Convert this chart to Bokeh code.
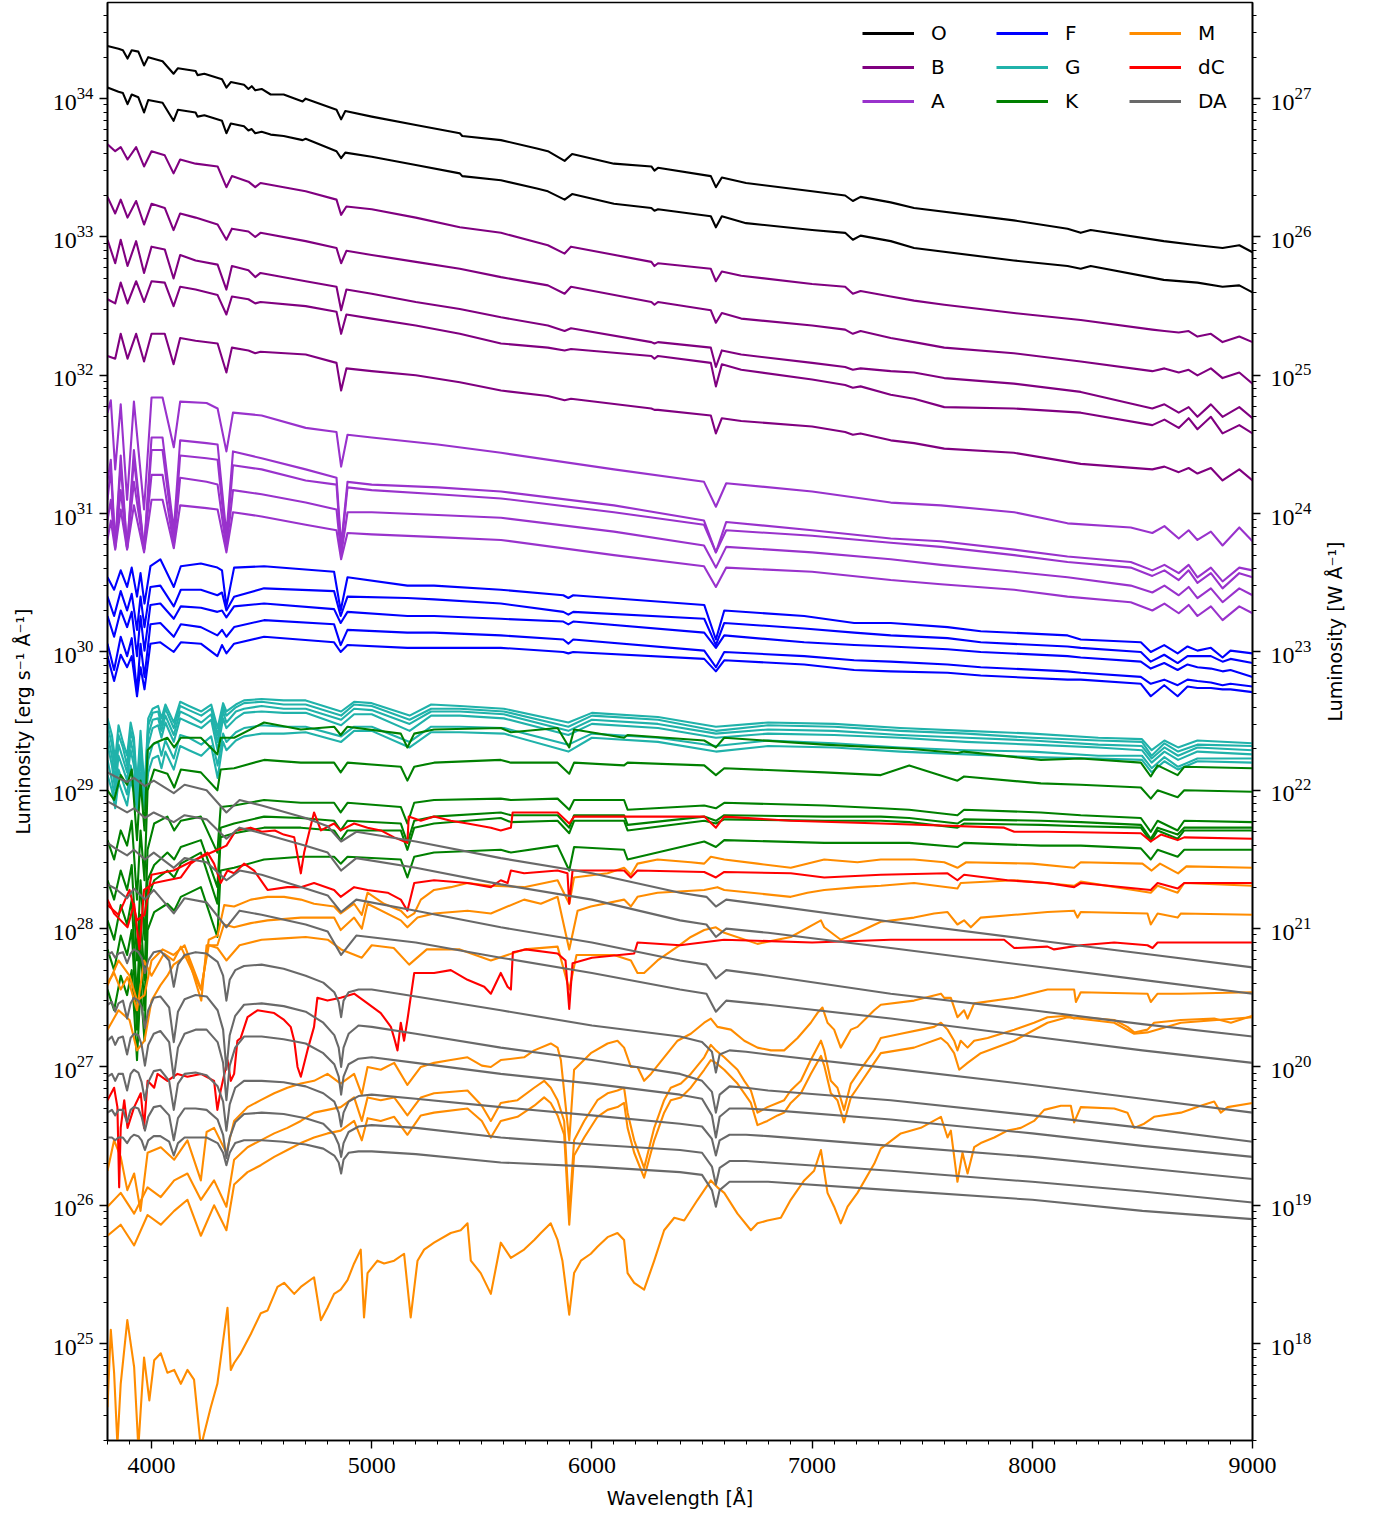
import math
from bokeh.plotting import figure
from bokeh.models import Range1d, LogScale, LogAxis, FixedTicker, Legend, LegendItem
from bokeh.embed import file_html
from bokeh.resources import INLINE

# ---------------- data: wavelength grids [Angstrom] and log10 luminosity [erg/s/A] ----------------
O_WL = [3800, 3850, 3870, 3891, 3910, 3940, 3966, 3985, 4050, 4100, 4120, 4200, 4209, 4240, 4320, 4340, 4360,
        4420, 4440, 4455, 4471, 4500, 4541, 4600, 4686, 4700, 4840, 4861, 4880, 5000, 5200, 5400, 5411, 5587,
        5750, 5800, 5876, 5910, 6100, 6270, 6284, 6300, 6540, 6563, 6590, 6700, 7000, 7150, 7185, 7220, 7357,
        7463, 7916, 8160, 8220, 8265, 8597, 8750, 8864, 8940, 9000]
O1 = [34.38, 34.36, 34.35, 34.29, 34.35, 34.34, 34.24, 34.30, 34.27, 34.18, 34.22, 34.20, 34.17, 34.18, 34.14,
      34.08, 34.12, 34.10, 34.07, 34.09, 34.06, 34.07, 34.03, 34.03, 33.98, 34.00, 33.92, 33.85, 33.91, 33.87,
      33.81, 33.75, 33.73, 33.70, 33.64, 33.62, 33.55, 33.60, 33.53, 33.51, 33.48, 33.50, 33.44, 33.36, 33.43,
      33.39, 33.33, 33.30, 33.26, 33.29, 33.25, 33.21, 33.12, 33.06, 33.03, 33.05, 32.97, 32.94, 32.92, 32.94, 32.89]
O2 = [34.08, 34.05, 34.04, 33.96, 34.03, 34.01, 33.90, 33.99, 33.97, 33.84, 33.92, 33.90, 33.87, 33.88, 33.84,
      33.75, 33.82, 33.80, 33.77, 33.78, 33.75, 33.76, 33.74, 33.73, 33.70, 33.71, 33.62, 33.57, 33.61, 33.58,
      33.52, 33.46, 33.44, 33.41, 33.35, 33.33, 33.27, 33.31, 33.24, 33.21, 33.19, 33.20, 33.15, 33.07, 33.15,
      33.10, 33.05, 33.03, 32.98, 33.01, 32.97, 32.92, 32.83, 32.79, 32.77, 32.79, 32.69, 32.67, 32.64, 32.65, 32.60]

B_WL = [3800, 3835, 3860, 3891, 3930, 3966, 4000, 4060, 4100, 4130, 4200, 4300, 4340, 4365, 4440, 4471, 4495,
        4700, 4840, 4861, 4885, 5000, 5200, 5400, 5587, 5800, 5876, 5905, 6270, 6284, 6300, 6540, 6563, 6590,
        6678, 7000, 7150, 7185, 7220, 7357, 7463, 7600, 7916, 8220, 8545, 8600, 8665, 8710, 8750, 8811, 8864,
        8940, 9000]
B1 = [33.67, 33.62, 33.65, 33.56, 33.65, 33.51, 33.62, 33.59, 33.46, 33.56, 33.53, 33.51, 33.36, 33.44, 33.40,
      33.36, 33.39, 33.33, 33.27, 33.16, 33.22, 33.20, 33.14, 33.07, 33.03, 32.94, 32.88, 32.93, 32.82, 32.79,
      32.81, 32.77, 32.68, 32.75, 32.72, 32.66, 32.64, 32.59, 32.61, 32.57, 32.54, 32.51, 32.45, 32.40, 32.33,
      32.32, 32.31, 32.32, 32.28, 32.30, 32.24, 32.28, 32.24]
B2 = [33.29, 33.17, 33.27, 33.14, 33.26, 33.09, 33.24, 33.21, 33.05, 33.17, 33.14, 33.09, 32.98, 33.06, 33.04,
      33.00, 33.03, 32.97, 32.92, 32.81, 32.90, 32.87, 32.82, 32.77, 32.71, 32.65, 32.59, 32.64, 32.53, 32.51,
      32.53, 32.47, 32.38, 32.45, 32.41, 32.36, 32.33, 32.30, 32.32, 32.27, 32.24, 32.20, 32.16, 32.10, 32.03,
      32.05, 32.02, 32.04, 32.00, 32.05, 31.98, 32.02, 31.94]
B3 = [32.98, 32.81, 32.98, 32.79, 32.97, 32.74, 32.93, 32.91, 32.70, 32.87, 32.83, 32.80, 32.62, 32.79, 32.76,
      32.71, 32.74, 32.68, 32.64, 32.47, 32.62, 32.59, 32.53, 32.48, 32.42, 32.36, 32.32, 32.34, 32.24, 32.23,
      32.24, 32.20, 32.06, 32.18, 32.15, 32.09, 32.06, 32.04, 32.05, 32.03, 32.02, 31.98, 31.94, 31.88, 31.76,
      31.79, 31.73, 31.77, 31.70, 31.79, 31.70, 31.77, 31.69]
B4 = [32.55, 32.52, 32.67, 32.52, 32.68, 32.53, 32.68, 32.67, 32.50, 32.64, 32.62, 32.58, 32.44, 32.57, 32.55,
      32.52, 32.53, 32.50, 32.46, 32.30, 32.44, 32.41, 32.36, 32.30, 32.23, 32.20, 32.18, 32.19, 32.14, 32.12,
      32.14, 32.09, 31.92, 32.08, 32.04, 31.97, 31.93, 31.91, 31.92, 31.86, 31.83, 31.77, 31.76, 31.73, 31.64,
      31.68, 31.62, 31.69, 31.61, 31.70, 31.58, 31.64, 31.58]
B5 = [32.14, 32.12, 32.30, 32.12, 32.30, 32.10, 32.30, 32.30, 32.08, 32.27, 32.25, 32.23, 32.02, 32.20, 32.18,
      32.16, 32.17, 32.15, 32.09, 31.89, 32.05, 32.03, 32.00, 31.95, 31.89, 31.85, 31.82, 31.83, 31.76, 31.75,
      31.75, 31.71, 31.58, 31.69, 31.67, 31.63, 31.59, 31.57, 31.58, 31.53, 31.51, 31.47, 31.44, 31.36, 31.32,
      31.34, 31.30, 31.33, 31.29, 31.33, 31.24, 31.32, 31.24]

A_WL = [3800, 3815, 3835, 3860, 3889, 3920, 3966, 4000, 4050, 4101, 4130, 4250, 4300, 4340, 4370, 4500, 4700,
        4840, 4861, 4890, 5000, 5300, 5587, 6100, 6509, 6563, 6610, 7000, 7357, 7585, 7918, 8160, 8447, 8545,
        8600, 8665, 8710, 8750, 8811, 8864, 8940, 9000]
A1 = [31.73, 31.82, 31.32, 31.79, 31.10, 31.81, 31.03, 31.84, 31.84, 31.48, 31.81, 31.80, 31.76, 31.45, 31.73,
      31.71, 31.62, 31.59, 31.34, 31.57, 31.55, 31.50, 31.44, 31.32, 31.23, 31.05, 31.22, 31.16, 31.08, 31.06,
      31.01, 30.93, 30.90, 30.86, 30.91, 30.82, 30.88, 30.81, 30.87, 30.77, 30.90, 30.80]
A2 = [31.24, 31.39, 30.77, 31.42, 30.75, 31.46, 30.74, 31.55, 31.55, 30.88, 31.53, 31.51, 31.50, 30.85, 31.45,
      31.40, 31.32, 31.26, 30.77, 31.23, 31.21, 31.19, 31.16, 31.06, 30.95, 30.72, 30.94, 30.88, 30.82, 30.80,
      30.74, 30.69, 30.65, 30.59, 30.63, 30.57, 30.63, 30.54, 30.61, 30.51, 30.61, 30.59]
A3 = [31.10, 31.32, 30.76, 31.35, 30.75, 31.39, 30.74, 31.46, 31.46, 30.81, 31.42, 31.40, 31.39, 30.77, 31.35,
      31.32, 31.24, 31.21, 30.74, 31.19, 31.17, 31.14, 31.11, 31.01, 30.92, 30.72, 30.88, 30.84, 30.79, 30.76,
      30.70, 30.65, 30.61, 30.55, 30.59, 30.52, 30.59, 30.50, 30.57, 30.46, 30.57, 30.54]
A4 = [30.95, 31.10, 30.75, 31.17, 30.75, 31.23, 30.74, 31.28, 31.28, 30.77, 31.26, 31.23, 31.21, 30.74, 31.17,
      31.14, 31.08, 31.03, 30.70, 31.01, 31.01, 30.99, 30.97, 30.87, 30.77, 30.61, 30.76, 30.72, 30.67, 30.63,
      30.58, 30.54, 30.48, 30.43, 30.48, 30.41, 30.47, 30.39, 30.46, 30.36, 30.46, 30.41]
A5 = [30.81, 30.95, 30.74, 31.03, 30.74, 31.06, 30.72, 31.10, 31.10, 30.75, 31.06, 31.04, 31.03, 30.72, 31.01,
      30.98, 30.92, 30.88, 30.67, 30.86, 30.85, 30.83, 30.81, 30.70, 30.62, 30.47, 30.61, 30.58, 30.52, 30.49,
      30.45, 30.40, 30.36, 30.30, 30.35, 30.28, 30.34, 30.26, 30.33, 30.23, 30.33, 30.28]

F_WL = [3800, 3830, 3860, 3889, 3910, 3934, 3950, 3968, 3995, 4040, 4101, 4133, 4224, 4299, 4320, 4340, 4375,
        4511, 4829, 4859, 4890, 5162, 5283, 5586, 5870, 5893, 5915, 6510, 6563, 6601, 6964, 7191, 7357, 7615,
        7766, 8160, 8220, 8493, 8538, 8599, 8660, 8705, 8750, 8811, 8864, 8900, 9000]
F1 = [30.54, 30.45, 30.59, 30.47, 30.61, 30.40, 30.57, 30.35, 30.62, 30.67, 30.47, 30.62, 30.64, 30.61, 30.59,
      30.33, 30.61, 30.62, 30.58, 30.30, 30.54, 30.48, 30.48, 30.45, 30.41, 30.39, 30.41, 30.34, 30.09, 30.30,
      30.26, 30.21, 30.21, 30.18, 30.15, 30.12, 30.09, 30.07, 30.00, 30.05, 29.99, 30.04, 30.01, 30.03, 29.96,
      30.01, 29.99]
F2 = [30.40, 30.26, 30.44, 30.30, 30.42, 30.16, 30.40, 30.18, 30.47, 30.48, 30.33, 30.45, 30.45, 30.41, 30.43,
      30.30, 30.40, 30.46, 30.44, 30.26, 30.40, 30.39, 30.38, 30.35, 30.29, 30.27, 30.29, 30.24, 30.05, 30.21,
      30.17, 30.14, 30.12, 30.10, 30.07, 30.04, 30.03, 30.00, 29.93, 29.98, 29.92, 29.97, 29.97, 29.97, 29.93,
      29.95, 29.92]
F3 = [30.26, 30.11, 30.30, 30.18, 30.29, 29.97, 30.26, 30.01, 30.34, 30.35, 30.24, 30.33, 30.32, 30.29, 30.30,
      30.25, 30.33, 30.35, 30.31, 30.21, 30.29, 30.26, 30.26, 30.24, 30.22, 30.20, 30.22, 30.14, 30.03, 30.12,
      30.07, 30.05, 30.04, 30.02, 30.00, 29.97, 29.96, 29.93, 29.88, 29.92, 29.87, 29.91, 29.89, 29.88, 29.86,
      29.87, 29.82]
F4 = [30.06, 29.87, 30.11, 29.97, 30.10, 29.71, 30.06, 29.82, 30.20, 30.21, 30.11, 30.20, 30.18, 30.12, 30.16,
      30.11, 30.18, 30.23, 30.20, 30.05, 30.16, 30.14, 30.14, 30.12, 30.09, 30.06, 30.09, 30.01, 29.89, 30.00,
      29.97, 29.94, 29.93, 29.91, 29.89, 29.86, 29.85, 29.82, 29.77, 29.80, 29.76, 29.80, 29.79, 29.78, 29.76,
      29.77, 29.75]
F5 = [29.97, 29.79, 29.98, 29.89, 29.97, 29.68, 29.89, 29.73, 30.06, 30.07, 30.00, 30.07, 30.06, 29.97, 30.05,
      29.99, 30.06, 30.11, 30.07, 30.00, 30.05, 30.03, 30.03, 30.03, 30.00, 29.99, 30.00, 29.95, 29.86, 29.94,
      29.91, 29.87, 29.86, 29.85, 29.83, 29.80, 29.80, 29.77, 29.68, 29.76, 29.68, 29.75, 29.74, 29.74, 29.73,
      29.73, 29.71]

G_WL = [3800, 3820, 3835, 3850, 3870, 3889, 3905, 3920, 3934, 3950, 3968, 3985, 4005, 4030, 4045, 4063, 4101,
        4130, 4170, 4226, 4271, 4300, 4325, 4340, 4383, 4420, 4500, 4600, 4700, 4861, 4920, 5000, 5172, 5270,
        5400, 5600, 5893, 6000, 6300, 6563, 6800, 7100, 7400, 7700, 8000, 8300, 8498, 8542, 8600, 8662, 8750, 9000]
G1 = [29.52, 29.40, 29.22, 29.47, 29.35, 29.25, 29.49, 29.38, 29.04, 29.43, 29.00, 29.52, 29.59, 29.61, 29.52,
      29.62, 29.49, 29.64, 29.61, 29.57, 29.62, 29.45, 29.63, 29.57, 29.62, 29.65, 29.66, 29.65, 29.65, 29.57,
      29.64, 29.63, 29.54, 29.62, 29.61, 29.59, 29.49, 29.56, 29.53, 29.46, 29.49, 29.48, 29.45, 29.43, 29.41,
      29.38, 29.37, 29.29, 29.36, 29.31, 29.36, 29.34]
G2 = [29.47, 29.33, 29.15, 29.40, 29.31, 29.18, 29.43, 29.33, 29.00, 29.36, 28.99, 29.47, 29.56, 29.57, 29.47,
      29.59, 29.45, 29.61, 29.58, 29.54, 29.59, 29.40, 29.60, 29.54, 29.60, 29.63, 29.64, 29.62, 29.62, 29.54,
      29.62, 29.61, 29.51, 29.59, 29.59, 29.57, 29.46, 29.54, 29.51, 29.43, 29.47, 29.46, 29.43, 29.41, 29.38,
      29.36, 29.35, 29.25, 29.34, 29.28, 29.33, 29.32]
G3 = [29.40, 29.25, 29.07, 29.33, 29.23, 29.13, 29.36, 29.25, 28.97, 29.31, 28.97, 29.40, 29.51, 29.52, 29.43,
      29.54, 29.40, 29.57, 29.54, 29.49, 29.55, 29.35, 29.57, 29.49, 29.57, 29.59, 29.61, 29.59, 29.59, 29.51,
      29.59, 29.58, 29.48, 29.57, 29.57, 29.55, 29.43, 29.51, 29.48, 29.41, 29.44, 29.43, 29.40, 29.38, 29.36,
      29.33, 29.32, 29.23, 29.31, 29.25, 29.31, 29.29]
G4 = [29.33, 29.18, 29.00, 29.25, 29.16, 29.07, 29.29, 29.18, 28.93, 29.23, 28.93, 29.33, 29.45, 29.47, 29.38,
      29.49, 29.35, 29.52, 29.49, 29.45, 29.51, 29.29, 29.52, 29.45, 29.52, 29.56, 29.57, 29.56, 29.56, 29.47,
      29.55, 29.55, 29.43, 29.54, 29.54, 29.52, 29.40, 29.48, 29.45, 29.38, 29.41, 29.40, 29.38, 29.35, 29.33,
      29.31, 29.29, 29.20, 29.28, 29.22, 29.28, 29.26]
G5 = [29.22, 29.07, 28.93, 29.15, 29.06, 28.97, 29.18, 29.07, 28.89, 29.13, 28.89, 29.22, 29.33, 29.35, 29.25,
      29.36, 29.23, 29.40, 29.38, 29.33, 29.39, 29.18, 29.41, 29.35, 29.42, 29.45, 29.47, 29.46, 29.46, 29.39,
      29.46, 29.46, 29.35, 29.46, 29.46, 29.45, 29.33, 29.41, 29.38, 29.32, 29.36, 29.34, 29.31, 29.29, 29.28,
      29.25, 29.25, 29.16, 29.24, 29.17, 29.23, 29.23]
G6 = [29.11, 29.00, 28.87, 29.06, 28.97, 28.89, 29.07, 28.99, 28.86, 29.04, 28.86, 29.13, 29.23, 29.25, 29.16,
      29.28, 29.15, 29.32, 29.29, 29.25, 29.32, 29.09, 29.35, 29.29, 29.36, 29.39, 29.41, 29.41, 29.42, 29.35,
      29.43, 29.43, 29.31, 29.42, 29.42, 29.41, 29.28, 29.38, 29.35, 29.28, 29.32, 29.31, 29.28, 29.26, 29.24,
      29.23, 29.22, 29.13, 29.21, 29.15, 29.21, 29.20]

K_WL = [3800, 3830, 3860, 3889, 3910, 3934, 3950, 3968, 3982, 4012, 4072, 4103, 4133, 4224, 4299, 4314, 4375,
        4511, 4678, 4829, 4859, 4890, 5132, 5162, 5193, 5283, 5586, 5632, 5844, 5897, 5919, 6146, 6162, 6510,
        6563, 6601, 7055, 7312, 7441, 7660, 7690, 8039, 8220, 8493, 8538, 8569, 8660, 8690, 9000]
K1 = [29.00, 28.93, 29.11, 29.04, 29.15, 28.64, 29.07, 28.71, 29.29, 29.34, 29.38, 29.31, 29.38, 29.38, 29.26,
      29.38, 29.38, 29.49, 29.44, 29.46, 29.40, 29.46, 29.41, 29.31, 29.41, 29.44, 29.45, 29.42, 29.45, 29.31,
      29.44, 29.38, 29.40, 29.36, 29.31, 29.38, 29.33, 29.31, 29.30, 29.27, 29.28, 29.22, 29.23, 29.20, 29.10,
      29.18, 29.11, 29.17, 29.16]
K2 = [28.64, 28.50, 28.71, 28.60, 28.78, 28.21, 28.71, 28.35, 29.00, 29.15, 29.12, 29.02, 29.15, 29.13, 29.00,
      29.15, 29.16, 29.22, 29.20, 29.20, 29.13, 29.20, 29.17, 29.07, 29.17, 29.20, 29.22, 29.20, 29.20, 29.12,
      29.20, 29.18, 29.20, 29.18, 29.11, 29.16, 29.13, 29.11, 29.18, 29.07, 29.10, 29.05, 29.04, 29.02, 28.94,
      29.00, 28.95, 29.00, 28.99]
K3 = [28.35, 28.21, 28.42, 28.28, 28.46, 27.77, 28.35, 27.92, 28.57, 28.76, 28.81, 28.71, 28.78, 28.81, 28.55,
      28.88, 28.89, 28.93, 28.91, 28.91, 28.84, 28.91, 28.88, 28.76, 28.91, 28.93, 28.94, 28.93, 28.94, 28.86,
      28.93, 28.93, 28.86, 28.89, 28.87, 28.91, 28.89, 28.87, 28.86, 28.82, 28.86, 28.84, 28.82, 28.80, 28.70,
      28.78, 28.71, 28.78, 28.77]
K4 = [28.06, 27.92, 28.17, 28.03, 28.21, 27.48, 28.10, 27.63, 28.35, 28.46, 28.55, 28.50, 28.59, 28.64, 28.30,
      28.73, 28.76, 28.81, 28.80, 28.78, 28.71, 28.78, 28.76, 28.62, 28.78, 28.81, 28.84, 28.82, 28.82, 28.73,
      28.82, 28.82, 28.75, 28.81, 28.78, 28.82, 28.81, 28.81, 28.80, 28.76, 28.79, 28.78, 28.77, 28.75, 28.65,
      28.73, 28.68, 28.73, 28.73]
K5 = [27.85, 27.70, 27.95, 27.81, 27.99, 27.27, 27.88, 27.41, 28.21, 28.35, 28.42, 28.37, 28.47, 28.55, 28.18,
      28.66, 28.69, 28.73, 28.73, 28.71, 28.64, 28.71, 28.71, 28.57, 28.73, 28.76, 28.80, 28.77, 28.78, 28.69,
      28.78, 28.78, 28.71, 28.78, 28.76, 28.79, 28.78, 28.78, 28.77, 28.73, 28.76, 28.75, 28.74, 28.73, 28.63,
      28.71, 28.65, 28.71, 28.71]
K6 = [27.56, 27.41, 27.66, 27.52, 27.70, 27.05, 27.59, 27.19, 27.99, 28.12, 28.18, 28.13, 28.23, 28.30, 27.94,
      28.42, 28.44, 28.50, 28.52, 28.52, 28.47, 28.52, 28.50, 28.37, 28.52, 28.55, 28.57, 28.55, 28.60, 28.42,
      28.59, 28.57, 28.50, 28.63, 28.59, 28.64, 28.62, 28.62, 28.62, 28.59, 28.62, 28.60, 28.60, 28.58, 28.50,
      28.57, 28.52, 28.57, 28.57]

# M dwarfs: (wavelength, log10 L) pairs
M1_PTS = [(3800, 27.59), (3850, 27.77), (3900, 27.66), (3934, 27.48), (3968, 27.52), (4000, 27.77), (4050, 27.85),
          (4100, 27.81), (4150, 27.88), (4226, 27.56), (4260, 27.92), (4300, 27.95), (4330, 28.17), (4375, 28.16),
          (4451, 28.21), (4527, 28.23), (4602, 28.23), (4678, 28.21), (4738, 28.18), (4829, 28.16), (4859, 28.11),
          (4920, 28.18), (4955, 28.10), (4981, 28.26), (5056, 28.18), (5132, 28.13), (5162, 28.08), (5193, 28.11),
          (5223, 28.21), (5283, 28.28), (5359, 28.30), (5435, 28.33), (5541, 28.31), (5692, 28.30), (5844, 28.35),
          (5897, 28.18), (5919, 28.37), (6071, 28.40), (6146, 28.44), (6177, 28.39), (6207, 28.47), (6298, 28.50),
          (6449, 28.48), (6510, 28.47), (6540, 28.52), (6601, 28.50), (6752, 28.47), (6903, 28.44), (7055, 28.50),
          (7206, 28.48), (7312, 28.50), (7463, 28.50), (7600, 28.48), (7660, 28.44), (7700, 28.48), (8000, 28.47),
          (8190, 28.44), (8220, 28.48), (8500, 28.47), (8542, 28.42), (8580, 28.47), (8662, 28.40), (8700, 28.45),
          (9000, 28.44)]
M2_PTS = [(3800, 27.27), (3850, 27.41), (3900, 27.34), (3934, 27.12), (3968, 27.19), (4000, 27.48), (4040, 27.59),
          (4072, 27.66), (4100, 27.74), (4163, 27.81), (4226, 27.48), (4250, 27.88), (4299, 27.88), (4329, 28.03),
          (4375, 28.01), (4451, 28.04), (4527, 28.06), (4678, 28.08), (4829, 28.08), (4859, 27.99), (4920, 28.08),
          (4955, 28.00), (4981, 28.18), (5132, 28.06), (5162, 28.01), (5208, 28.08), (5283, 28.11), (5435, 28.13),
          (5541, 28.11), (5692, 28.21), (5768, 28.18), (5844, 28.23), (5897, 27.85), (5935, 28.13), (5995, 28.16),
          (6146, 28.21), (6177, 28.16), (6207, 28.23), (6298, 28.26), (6510, 28.28), (6570, 28.30), (6601, 28.28),
          (6903, 28.23), (6979, 28.26), (7055, 28.28), (7206, 28.30), (7312, 28.31), (7463, 28.33), (7660, 28.29),
          (7675, 28.33), (7918, 28.35), (8190, 28.31), (8220, 28.34), (8538, 28.26), (8569, 28.31), (8660, 28.26),
          (8690, 28.33), (9000, 28.31)]
M3_PTS = [(3800, 27.61), (3830, 27.68), (3860, 27.56), (3891, 27.65), (3934, 27.41), (3966, 27.77), (4000, 27.66),
          (4057, 27.82), (4100, 27.77), (4133, 27.87), (4224, 27.56), (4260, 27.88), (4300, 27.86), (4340, 27.77),
          (4400, 27.88), (4500, 27.92), (4600, 27.93), (4700, 27.94), (4800, 27.92), (4861, 27.85), (4955, 27.79),
          (5000, 27.88), (5100, 27.86), (5170, 27.74), (5250, 27.85), (5400, 27.85), (5541, 27.77), (5692, 27.85),
          (5844, 27.87), (5897, 27.56), (5930, 27.81), (6100, 27.81), (6177, 27.77), (6207, 27.68), (6237, 27.68),
          (6298, 27.77), (6389, 27.87), (6449, 27.94), (6510, 27.99), (6563, 28.01), (6601, 27.97), (6752, 27.89),
          (6903, 27.94), (7040, 28.06), (7055, 28.01), (7130, 27.92), (7206, 27.97), (7312, 28.05), (7463, 28.08),
          (7554, 28.11), (7615, 28.12), (7660, 28.03), (7690, 28.06), (7721, 28.01), (7766, 28.08), (7918, 28.10),
          (8069, 28.12), (8190, 28.13), (8205, 28.08), (8220, 28.12), (8523, 28.11), (8538, 28.03), (8569, 28.11),
          (8660, 28.08), (8675, 28.11), (9000, 28.10)]
M4_PTS = [(3800, 26.25), (3830, 26.47), (3860, 26.35), (3890, 26.11), (3921, 26.23), (3950, 25.96), (3982, 26.38),
          (4042, 26.42), (4103, 26.33), (4163, 26.47), (4224, 26.18), (4250, 26.53), (4284, 26.56), (4340, 26.38),
          (4375, 26.61), (4436, 26.71), (4496, 26.76), (4557, 26.81), (4617, 26.85), (4678, 26.88), (4738, 26.90),
          (4799, 26.95), (4859, 26.88), (4920, 26.95), (4955, 26.80), (4981, 27.00), (5041, 26.98), (5102, 27.03),
          (5162, 26.87), (5223, 27.00), (5283, 27.03), (5359, 27.05), (5435, 27.07), (5500, 27.01), (5541, 27.00),
          (5586, 27.05), (5692, 27.07), (5738, 27.12), (5813, 27.17), (5844, 27.14), (5859, 27.05), (5897, 26.47),
          (5919, 26.98), (5995, 27.10), (6071, 27.17), (6116, 27.19), (6146, 27.14), (6177, 27.00), (6207, 27.00),
          (6237, 26.90), (6268, 26.95), (6328, 27.07), (6389, 27.19), (6449, 27.24), (6510, 27.32), (6540, 27.35),
          (6570, 27.29), (6631, 27.27), (6692, 27.19), (6752, 27.14), (6813, 27.12), (6873, 27.12), (6934, 27.21),
          (6994, 27.32), (7024, 27.39), (7047, 27.43), (7070, 27.32), (7100, 27.27), (7130, 27.14), (7176, 27.27),
          (7206, 27.29), (7282, 27.41), (7312, 27.45), (7463, 27.48), (7585, 27.53), (7600, 27.50), (7630, 27.50),
          (7660, 27.36), (7690, 27.41), (7706, 27.35), (7736, 27.46), (7918, 27.50), (8069, 27.56), (8190, 27.56),
          (8198, 27.47), (8220, 27.54), (8523, 27.53), (8538, 27.47), (8569, 27.53), (8675, 27.53), (9000, 27.54)]
M5_PTS = [(3800, 25.99), (3860, 26.09), (3921, 25.94), (3982, 26.13), (4042, 26.06), (4103, 26.18), (4163, 26.23),
          (4224, 26.04), (4284, 26.18), (4340, 25.99), (4375, 26.33), (4436, 26.42), (4496, 26.47), (4557, 26.52),
          (4617, 26.56), (4678, 26.61), (4738, 26.67), (4799, 26.69), (4859, 26.71), (4920, 26.78), (4955, 26.61),
          (4981, 26.78), (5041, 26.76), (5102, 26.78), (5162, 26.65), (5223, 26.78), (5283, 26.81), (5435, 26.83),
          (5500, 26.72), (5541, 26.61), (5586, 26.74), (5662, 26.76), (5738, 26.85), (5783, 26.90), (5813, 26.85),
          (5844, 26.76), (5874, 26.61), (5897, 25.94), (5919, 26.47), (5965, 26.61), (6025, 26.76), (6071, 26.81),
          (6116, 26.83), (6146, 26.85), (6162, 26.67), (6192, 26.47), (6237, 26.27), (6283, 26.56), (6328, 26.76),
          (6358, 26.85), (6404, 26.88), (6449, 26.95), (6510, 27.07), (6540, 27.16), (6563, 27.12), (6601, 27.07),
          (6661, 26.98), (6692, 26.90), (6722, 26.83), (6752, 26.67), (6797, 26.71), (6843, 26.74), (6873, 26.76),
          (6903, 26.83), (6949, 26.90), (6994, 27.05), (7040, 27.19), (7055, 27.12), (7085, 26.90), (7115, 26.85),
          (7145, 26.69), (7176, 26.88), (7206, 26.95), (7282, 27.12), (7312, 27.21), (7403, 27.24), (7494, 27.27),
          (7554, 27.29), (7585, 27.32), (7615, 27.27), (7645, 27.19), (7660, 27.12), (7675, 27.19), (7706, 27.14),
          (7736, 27.19), (7797, 27.21), (7918, 27.27), (8008, 27.32), (8069, 27.36), (8160, 27.37), (8190, 27.35),
          (8220, 27.36), (8372, 27.34), (8432, 27.29), (8463, 27.25), (8523, 27.27), (8553, 27.32), (8675, 27.34),
          (8826, 27.35), (8902, 27.32), (9000, 27.37)]
M6_PTS = [(3800, 25.78), (3860, 25.86), (3921, 25.71), (3982, 25.93), (4042, 25.86), (4103, 25.96), (4163, 26.04),
          (4224, 25.78), (4284, 26.00), (4340, 25.82), (4375, 26.15), (4436, 26.24), (4496, 26.29), (4557, 26.35),
          (4617, 26.40), (4678, 26.45), (4738, 26.49), (4799, 26.52), (4859, 26.54), (4920, 26.61), (4955, 26.47),
          (4981, 26.63), (5041, 26.61), (5102, 26.64), (5162, 26.51), (5223, 26.65), (5283, 26.67), (5435, 26.70),
          (5500, 26.61), (5541, 26.49), (5586, 26.61), (5662, 26.64), (5738, 26.72), (5783, 26.78), (5813, 26.74),
          (5844, 26.65), (5874, 26.51), (5897, 25.86), (5919, 26.36), (5965, 26.49), (6025, 26.64), (6071, 26.69),
          (6116, 26.71), (6146, 26.74), (6162, 26.56), (6192, 26.38), (6237, 26.20), (6283, 26.47), (6328, 26.67),
          (6358, 26.76), (6404, 26.78), (6449, 26.85), (6510, 26.98), (6540, 27.05), (6563, 27.03), (6601, 26.98),
          (6661, 26.88), (6692, 26.81), (6722, 26.74), (6752, 26.58), (6797, 26.61), (6843, 26.65), (6873, 26.67),
          (6903, 26.74), (6949, 26.81), (6994, 26.95), (7040, 27.08), (7055, 27.01), (7085, 26.81), (7115, 26.76),
          (7145, 26.60), (7176, 26.78), (7206, 26.85), (7282, 27.03), (7312, 27.10), (7463, 27.14), (7585, 27.21),
          (7615, 27.17), (7645, 27.10), (7668, 26.98), (7706, 27.03), (7766, 27.10), (7918, 27.19), (8069, 27.32),
          (8160, 27.36), (8372, 27.32), (8463, 27.24), (8523, 27.25), (8675, 27.32), (9000, 27.36)]
M7_PTS = [(3800, 24.54), (3815, 25.10), (3830, 24.79), (3845, 24.27), (3860, 24.71), (3890, 25.17), (3921, 24.83),
          (3940, 24.25), (3966, 24.90), (3990, 24.59), (4012, 24.88), (4042, 24.93), (4072, 24.79), (4103, 24.81),
          (4133, 24.71), (4163, 24.81), (4193, 24.74), (4224, 24.25), (4239, 24.35), (4269, 24.54), (4299, 24.71),
          (4345, 25.26), (4360, 24.81), (4375, 24.86), (4405, 24.93), (4451, 25.07), (4496, 25.22), (4527, 25.24),
          (4572, 25.41), (4602, 25.44), (4648, 25.36), (4678, 25.41), (4738, 25.48), (4769, 25.17), (4799, 25.26),
          (4829, 25.36), (4859, 25.39), (4890, 25.46), (4920, 25.58), (4950, 25.68), (4965, 25.19), (4981, 25.51),
          (5026, 25.60), (5056, 25.58), (5102, 25.60), (5147, 25.65), (5177, 25.19), (5208, 25.60), (5238, 25.68),
          (5283, 25.73), (5359, 25.80), (5404, 25.82), (5435, 25.87), (5450, 25.60), (5495, 25.51), (5541, 25.36),
          (5586, 25.73), (5632, 25.62), (5692, 25.68), (5738, 25.75), (5768, 25.80), (5813, 25.87), (5844, 25.75),
          (5866, 25.60), (5897, 25.21), (5919, 25.51), (5950, 25.60), (5995, 25.65), (6025, 25.70), (6071, 25.77),
          (6116, 25.80), (6146, 25.75), (6162, 25.51), (6192, 25.44), (6237, 25.39), (6283, 25.60), (6328, 25.82),
          (6374, 25.91), (6419, 25.89), (6480, 26.04), (6540, 26.18), (6570, 26.13), (6601, 26.09), (6661, 25.94),
          (6722, 25.82), (6752, 25.87), (6797, 25.89), (6858, 25.91), (6903, 26.04), (6964, 26.18), (7009, 26.25),
          (7040, 26.40), (7070, 26.09), (7100, 25.99), (7130, 25.87), (7161, 25.99), (7206, 26.09), (7282, 26.30),
          (7312, 26.41), (7403, 26.52), (7494, 26.56), (7585, 26.64), (7615, 26.49), (7630, 26.54), (7660, 26.17),
          (7683, 26.38), (7706, 26.23), (7736, 26.42), (7766, 26.45), (7827, 26.49), (7887, 26.54), (7948, 26.56),
          (8008, 26.61), (8054, 26.69), (8130, 26.72), (8175, 26.72), (8190, 26.60), (8220, 26.71), (8372, 26.70),
          (8432, 26.67), (8463, 26.56), (8508, 26.59), (8553, 26.64), (8675, 26.67), (8765, 26.72), (8826, 26.75),
          (8856, 26.67), (8887, 26.71), (9000, 26.74)]

# carbon dwarfs
DC1_PTS = [(3800, 28.17), (3850, 28.10), (3900, 28.28), (3934, 28.06), (3968, 28.10), (4000, 28.39), (4100, 28.42),
           (4200, 28.50), (4300, 28.57), (4340, 28.60), (4383, 28.71), (4450, 28.73), (4500, 28.70), (4560, 28.71),
           (4600, 28.68), (4648, 28.66), (4678, 28.40), (4693, 28.55), (4738, 28.84), (4769, 28.71), (4829, 28.76),
           (4859, 28.71), (4920, 28.76), (4981, 28.73), (5041, 28.71), (5102, 28.66), (5162, 28.62), (5168, 28.81),
           (5223, 28.78), (5283, 28.81), (5359, 28.78), (5435, 28.76), (5541, 28.73), (5586, 28.71), (5632, 28.73),
           (5640, 28.84), (5844, 28.84), (5897, 28.76), (5919, 28.81), (6146, 28.81), (6510, 28.81), (6563, 28.73),
           (6601, 28.81), (6903, 28.78), (7312, 28.76), (7872, 28.73), (7918, 28.70), (8069, 28.70), (8493, 28.69),
           (8538, 28.63), (8584, 28.68), (8660, 28.64), (8690, 28.66), (9000, 28.65)]
DC2_PTS = [(3800, 28.21), (3830, 28.11), (3860, 28.06), (3891, 28.01), (3921, 28.18), (3945, 27.85), (3966, 28.28),
           (4012, 28.33), (4072, 28.35), (4133, 28.37), (4178, 28.47), (4224, 28.52), (4254, 28.55), (4284, 28.47),
           (4314, 28.33), (4345, 28.42), (4375, 28.40), (4420, 28.47), (4466, 28.42), (4527, 28.28), (4617, 28.30),
           (4678, 28.30), (4738, 28.33), (4829, 28.28), (4859, 28.23), (4920, 28.30), (4981, 28.28), (5072, 28.26),
           (5132, 28.21), (5162, 28.13), (5193, 28.33), (5283, 28.35), (5435, 28.33), (5541, 28.30), (5586, 28.35),
           (5617, 28.33), (5632, 28.42), (5692, 28.40), (5844, 28.42), (5889, 28.40), (5897, 28.18), (5912, 28.42),
           (6146, 28.42), (6177, 28.37), (6207, 28.42), (6510, 28.41), (6563, 28.37), (6601, 28.41), (6903, 28.40),
           (7055, 28.37), (7312, 28.39), (7615, 28.40), (7660, 28.35), (7690, 28.39), (7887, 28.35), (8069, 28.33),
           (8190, 28.30), (8220, 28.33), (8538, 28.28), (8569, 28.33), (8660, 28.29), (8690, 28.33), (9000, 28.33)]
DC3_PTS = [(3800, 26.76), (3830, 26.85), (3845, 26.71), (3853, 26.13), (3860, 26.56), (3876, 26.76), (3891, 26.56),
           (3921, 26.71), (3951, 26.81), (3966, 26.56), (3982, 26.90), (4012, 26.85), (4027, 26.95), (4072, 26.90),
           (4118, 26.95), (4163, 26.93), (4224, 26.95), (4284, 26.90), (4299, 26.69), (4314, 26.83), (4345, 27.05),
           (4360, 26.90), (4375, 26.95), (4390, 27.19), (4405, 27.21), (4436, 27.36), (4481, 27.41), (4557, 27.39),
           (4602, 27.34), (4632, 27.29), (4648, 27.19), (4663, 27.00), (4678, 26.93), (4708, 27.12), (4738, 27.29),
           (4753, 27.50), (4799, 27.48), (4859, 27.50), (4920, 27.53), (4981, 27.46), (5041, 27.39), (5087, 27.29),
           (5102, 27.21), (5117, 27.12), (5132, 27.32), (5147, 27.19), (5162, 27.34), (5193, 27.68), (5283, 27.68),
           (5359, 27.70), (5435, 27.63), (5511, 27.58), (5541, 27.53), (5586, 27.68), (5617, 27.58), (5632, 27.56),
           (5641, 27.83), (5700, 27.85), (5844, 27.82), (5880, 27.77), (5897, 27.42), (5912, 27.75), (6000, 27.79),
           (6192, 27.82), (6207, 27.90), (6400, 27.88), (6600, 27.92), (7000, 27.90), (7357, 27.92), (7872, 27.92),
           (7918, 27.86), (8069, 27.87), (8099, 27.85), (8220, 27.88), (8372, 27.90), (8523, 27.88), (8546, 27.86),
           (8569, 27.90), (8826, 27.90), (9000, 27.90)]

# hot DA white dwarfs (narrower Balmer lines)
DA_WL = [3800, 3835, 3889, 3920, 3970, 4010, 4101, 4150, 4250, 4340, 4400, 4500, 4700, 4800, 4861, 4930, 5200,
         5586, 6000, 6400, 6520, 6563, 6610, 6800, 7357, 8000, 8500, 9000]
DA1 = [29.13, 29.10, 29.06, 29.09, 29.03, 29.07, 28.98, 29.04, 29.00, 28.84, 28.93, 28.89, 28.80, 28.74, 28.63,
       28.70, 28.63, 28.51, 28.40, 28.26, 28.23, 28.16, 28.21, 28.17, 28.05, 27.92, 27.82, 27.72]
DA2 = [28.92, 28.89, 28.84, 28.87, 28.80, 28.84, 28.77, 28.82, 28.79, 28.65, 28.73, 28.69, 28.60, 28.55, 28.42,
       28.51, 28.44, 28.32, 28.21, 28.06, 28.03, 27.94, 28.00, 27.97, 27.86, 27.73, 27.63, 27.53]
DA3 = [28.62, 28.58, 28.53, 28.57, 28.50, 28.55, 28.44, 28.51, 28.48, 28.35, 28.42, 28.39, 28.29, 28.24, 28.12,
       28.21, 28.13, 28.01, 27.90, 27.77, 27.74, 27.64, 27.70, 27.66, 27.53, 27.41, 27.31, 27.22]
DA4 = [28.32, 28.29, 28.22, 28.29, 28.21, 28.28, 28.11, 28.22, 28.19, 28.01, 28.13, 28.10, 28.03, 27.98, 27.81,
       27.95, 27.90, 27.79, 27.68, 27.56, 27.53, 27.40, 27.48, 27.45, 27.35, 27.22, 27.12, 27.03]

# cool DA white dwarfs (broad Balmer lines), finer sampling across the lines
DAC_WL = [3800, 3820, 3835, 3850, 3870, 3889, 3905, 3920, 3940, 3955, 3970, 3985, 4010, 4040, 4080, 4101, 4120,
          4150, 4200, 4250, 4300, 4325, 4340, 4355, 4380, 4420, 4500, 4600, 4700, 4780, 4830, 4850, 4861, 4872,
          4895, 4940, 5000, 5200, 5586, 6000, 6400, 6500, 6545, 6563, 6580, 6625, 6700, 6800, 7357, 8000, 8500, 9000]
DA5 = [27.81, 27.83, 27.79, 27.82, 27.83, 27.75, 27.82, 27.85, 27.83, 27.79, 27.68, 27.77, 27.83, 27.84, 27.77,
       27.58, 27.74, 27.81, 27.83, 27.82, 27.76, 27.66, 27.48, 27.63, 27.70, 27.73, 27.74, 27.71, 27.66, 27.61,
       27.54, 27.47, 27.36, 27.48, 27.54, 27.56, 27.56, 27.51, 27.41, 27.30, 27.22, 27.18, 27.11, 26.96, 27.09,
       27.12, 27.11, 27.09, 26.99, 26.87, 26.77, 26.67]
DA6 = [27.45, 27.47, 27.40, 27.46, 27.48, 27.35, 27.46, 27.50, 27.48, 27.43, 27.28, 27.41, 27.50, 27.51, 27.43,
       27.18, 27.40, 27.49, 27.52, 27.51, 27.41, 27.27, 26.98, 27.23, 27.37, 27.45, 27.46, 27.44, 27.40, 27.32,
       27.23, 27.14, 27.00, 27.14, 27.24, 27.30, 27.29, 27.24, 27.14, 27.05, 26.95, 26.90, 26.82, 26.67, 26.80,
       26.86, 26.85, 26.83, 26.76, 26.65, 26.56, 26.46]
DA7 = [27.19, 27.22, 27.16, 27.21, 27.22, 27.09, 27.21, 27.24, 27.23, 27.16, 27.01, 27.16, 27.24, 27.26, 27.18,
       26.92, 27.14, 27.24, 27.27, 27.27, 27.18, 27.03, 26.76, 27.01, 27.14, 27.22, 27.22, 27.20, 27.17, 27.10,
       27.02, 26.93, 26.80, 26.93, 27.02, 27.06, 27.07, 27.03, 26.95, 26.88, 26.80, 26.77, 26.65, 26.49, 26.64,
       26.70, 26.70, 26.69, 26.62, 26.52, 26.43, 26.35]
DA8 = [26.93, 26.95, 26.90, 26.95, 26.95, 26.83, 26.95, 26.98, 26.96, 26.89, 26.76, 26.89, 26.97, 26.98, 26.90,
       26.69, 26.88, 26.95, 26.96, 26.94, 26.86, 26.75, 26.54, 26.73, 26.85, 26.90, 26.90, 26.89, 26.86, 26.81,
       26.75, 26.67, 26.57, 26.67, 26.75, 26.79, 26.80, 26.77, 26.71, 26.65, 26.59, 26.57, 26.48, 26.36, 26.47,
       26.51, 26.51, 26.50, 26.43, 26.35, 26.27, 26.19]
DA9 = [26.67, 26.69, 26.65, 26.69, 26.69, 26.60, 26.69, 26.71, 26.70, 26.64, 26.54, 26.64, 26.71, 26.72, 26.65,
       26.47, 26.63, 26.70, 26.70, 26.69, 26.62, 26.51, 26.34, 26.49, 26.60, 26.66, 26.67, 26.66, 26.63, 26.59,
       26.51, 26.44, 26.35, 26.45, 26.53, 26.57, 26.58, 26.56, 26.49, 26.44, 26.40, 26.38, 26.28, 26.15, 26.27,
       26.32, 26.32, 26.31, 26.25, 26.17, 26.10, 26.02]
DA10 = [26.49, 26.49, 26.47, 26.49, 26.49, 26.45, 26.49, 26.51, 26.50, 26.47, 26.40, 26.47, 26.50, 26.50, 26.46,
        26.36, 26.45, 26.49, 26.49, 26.49, 26.45, 26.38, 26.29, 26.38, 26.45, 26.47, 26.47, 26.46, 26.44, 26.41,
        26.36, 26.31, 26.23, 26.33, 26.38, 26.39, 26.39, 26.37, 26.31, 26.28, 26.24, 26.22, 26.11, 25.99, 26.11,
        26.17, 26.17, 26.17, 26.11, 26.04, 25.96, 25.90]

CLASSES = ["O", "B", "A", "F", "G", "K", "M", "dC", "DA"]
COLORS = {"O": "#000000", "B": "#800080", "A": "#9932CC", "F": "#0000FF", "G": "#20B2AA",
          "K": "#008000", "M": "#FF8C00", "dC": "#FF0000", "DA": "#696969"}


def from_pts(pts):
    return [w for w, _ in pts], [v for _, v in pts]


SPECTRA = {
    "O": [(O_WL, O1), (O_WL, O2)],
    "B": [(B_WL, s) for s in (B1, B2, B3, B4, B5)],
    "A": [(A_WL, s) for s in (A1, A2, A3, A4, A5)],
    "F": [(F_WL, s) for s in (F1, F2, F3, F4, F5)],
    "G": [(G_WL, s) for s in (G1, G2, G3, G4, G5, G6)],
    "K": [(K_WL, s) for s in (K1, K2, K3, K4, K5, K6)],
    "M": [from_pts(s) for s in (M1_PTS, M2_PTS, M3_PTS, M4_PTS, M5_PTS, M6_PTS, M7_PTS)],
    "dC": [from_pts(s) for s in (DC1_PTS, DC2_PTS, DC3_PTS)],
    "DA": [(DA_WL, s) for s in (DA1, DA2, DA3, DA4)] + [(DAC_WL, s) for s in (DA5, DA6, DA7, DA8, DA9, DA10)],
}

# ---------------- figure ----------------
LOG_LO, LOG_HI = 24.30, 34.695
p = figure(width=1370, height=1515, x_range=Range1d(3800, 9000),
           y_range=Range1d(10 ** LOG_LO, 10 ** LOG_HI), y_axis_type="log",
           output_backend="svg", toolbar_location=None,
           min_border_left=107, min_border_right=118, min_border_top=2, min_border_bottom=75)
p.extra_y_ranges = {"w": Range1d(10 ** (LOG_LO - 7), 10 ** (LOG_HI - 7))}
p.extra_y_scales = {"w": LogScale()}
p.grid.visible = False
p.outline_line_color = "black"
p.outline_line_width = 1.6
p.background_fill_color = "white"
p.border_fill_color = "white"

for cls in CLASSES:
    for wl, vals in SPECTRA[cls]:
        n = min(len(wl), len(vals))
        p.line(wl[:n], [10 ** v for v in vals[:n]], line_color=COLORS[cls], line_width=2.1,
               line_join="round")


def style_axis(ax):
    ax.axis_line_color = "black"
    ax.axis_line_width = 1.6
    ax.major_tick_line_width = 1.4
    ax.minor_tick_line_width = 1.0
    ax.major_tick_out = 8
    ax.major_tick_in = 0
    ax.minor_tick_out = 4
    ax.minor_tick_in = 0
    ax.major_label_text_font = "Liberation Serif"
    ax.major_label_text_font_size = "24px"
    ax.major_label_text_color = "black"
    ax.axis_label_text_font = "DejaVu Sans"
    ax.axis_label_text_font_size = "19px"
    ax.axis_label_text_font_style = "normal"
    ax.axis_label_text_color = "black"


y_minor = [m * 10.0 ** k for k in range(17, 36) for m in range(2, 10)]

xa = p.xaxis[0]
style_axis(xa)
xa.ticker = FixedTicker(ticks=list(range(4000, 9001, 1000)), minor_ticks=list(range(3800, 9001, 100)))
xa.axis_label = "Wavelength [Å]"
xa.major_label_standoff = 9
xa.axis_label_standoff = 11

ya = p.yaxis[0]
style_axis(ya)
ya.ticker = FixedTicker(ticks=[10.0 ** k for k in range(25, 35)], minor_ticks=y_minor)
ya.axis_label = "Luminosity [erg s⁻¹ Å⁻¹]"
ya.major_label_standoff = 6
ya.axis_label_standoff = 16

ra = LogAxis(y_range_name="w", axis_label="Luminosity [W Å⁻¹]")
style_axis(ra)
ra.ticker = FixedTicker(ticks=[10.0 ** k for k in range(18, 28)], minor_ticks=y_minor)
ra.major_label_standoff = 10
ra.axis_label_standoff = 21
try:
    ra.axis_label_orientation = math.pi / 2
except Exception:
    pass
p.add_layout(ra, "right")

# ---------------- legend (three columns, no frame) ----------------
dummies = {c: p.line([0, 1], [1e30, 1e30], line_color=COLORS[c], line_width=3) for c in CLASSES}
cols = [["O", "B", "A"], ["F", "G", "K"], ["M", "dC", "DA"]]
col_x = [755, 889, 1022]
for col, x0 in zip(cols, col_x):
    lg = Legend(items=[LegendItem(label=c, renderers=[dummies[c]]) for c in col],
                location=(x0, 1327), orientation="vertical")
    lg.glyph_width = 52
    lg.glyph_height = 20
    lg.label_height = 20
    lg.spacing = 10
    lg.label_standoff = 17
    lg.padding = 0
    lg.margin = 0
    lg.border_line_alpha = 0
    lg.background_fill_alpha = 0
    lg.label_text_font = "DejaVu Sans"
    lg.label_text_font_size = "20px"
    lg.label_text_color = "black"
    p.add_layout(lg)

open("out.html", "w").write(file_html(p, INLINE))
